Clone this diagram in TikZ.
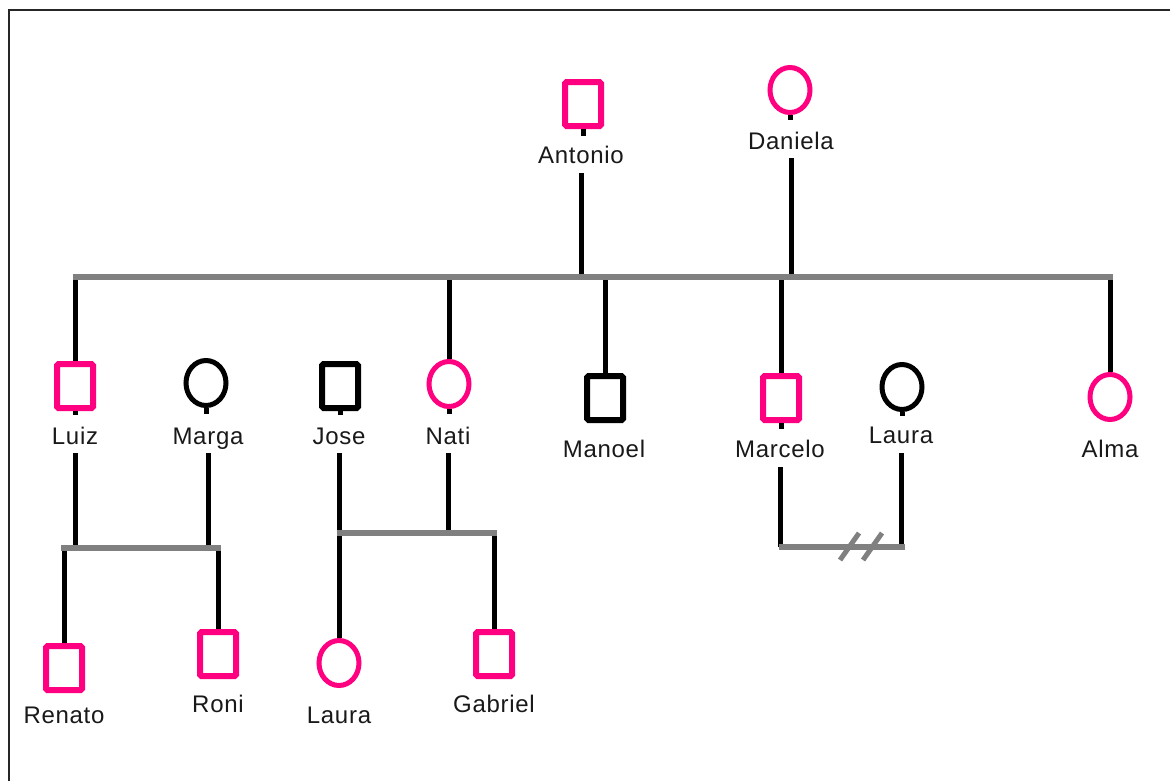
\documentclass[tikz,border=0pt]{standalone}
\usepackage{fontspec}
\setmainfont[LetterSpace=3]{Liberation Sans}
\usetikzlibrary{shapes.geometric}
\definecolor{pinkc}{RGB}{255,0,128}
\definecolor{barc}{RGB}{128,128,128}
\begin{document}
\begin{tikzpicture}[x=1pt,y=-1pt,
 male/.style={draw=pinkc, line width=6pt, minimum width=36pt, minimum height=44pt, inner sep=0pt, rounded corners=1.5pt},
 malek/.style={male, draw=black},
 female/.style={ellipse, draw=pinkc, line width=5pt, minimum width=40pt, minimum height=45pt, inner sep=0pt},
 femalek/.style={female, draw=black},
 lab/.style={font=\fontsize{24}{28}\selectfont, inner sep=0pt, anchor=base, text=black!90},
 kin/.style={line width=5pt, draw=black},
 bar/.style={line width=6pt, draw=barc},
 frameline/.style={line width=2pt, draw=black!85}]
\useasboundingbox (0,0) rectangle (1170,780);
\fill[white] (0,0) rectangle (1170,780);
\draw[frameline] (9,781) -- (9,10) -- (1171,10);

% generation 1
\node[male] (ant) at (583,104) {};
\node[lab] (antL) at (581,163) {Antonio};
\node[female] (dan) at (790,90) {};
\node[lab] (danL) at (791,149) {Daniela};

% generation 2
\node[male] (luiz) at (75,386) {};
\node[lab] (luizL) at (75,444) {Luiz};
\node[femalek] (marga) at (206,383) {};
\node[lab] (margaL) at (208,444) {Marga};
\node[malek] (jose) at (340,386) {};
\node[lab] (joseL) at (339,444) {Jose};
\node[female] (nati) at (449,384) {};
\node[lab] (natiL) at (448,444) {Nati};
\node[malek] (manoel) at (605,398) {};
\node[lab] (manoelL) at (604,457) {Manoel};
\node[male] (marcelo) at (781,398) {};
\node[lab] (marceloL) at (780,457) {Marcelo};
\node[femalek] (laurab) at (902,387) {};
\node[lab] (laurabL) at (901,443) {Laura};
\node[female] (alma) at (1110,397) {};
\node[lab] (almaL) at (1110,457) {Alma};

% generation 3
\node[male] (renato) at (64,668) {};
\node[lab] (renatoL) at (64,723) {Renato};
\node[male] (roni) at (218,654) {};
\node[lab] (roniL) at (218,712) {Roni};
\node[female] (laurac) at (339,663) {};
\node[lab] (lauracL) at (339,723) {Laura};
\node[male] (gabriel) at (494,654) {};
\node[lab] (gabrielL) at (494,712) {Gabriel};

% bar coordinates
\coordinate (tbL) at (72.5,277);
\coordinate (tbR) at (1112.5,277);
\coordinate (lmL) at (61,548);
\coordinate (lmR) at (220.5,548);
\coordinate (jnL) at (336.5,533);
\coordinate (jnR) at (496.5,533);
\coordinate (mlL) at (778.5,547);
\coordinate (mlR) at (904.5,547);

% stubs under symbols
\draw[kin] (ant.south) -- ++(0,7);
\draw[kin] (dan.south) -- ++(0,5);
\draw[kin] (luiz.south) -- ++(0,4);
\draw[kin] (marga.south) -- ++(0,6);
\draw[kin] (jose.south) -- ++(0,4);
\draw[kin] (nati.south) -- ++(0,5);
\draw[kin] (marcelo.south) -- ++(0,6);
\draw[kin] (laurab.south) -- ++(0,4);

% parents to sibship line
\draw[kin] ([yshift=-10pt]antL.base) -- (antL.base |- tbL);
\draw[kin] ([yshift=-9pt]danL.base) -- (danL.base |- tbL);

% children of Antonio & Daniela
\draw[kin] (luiz.north) -- (luiz.north |- tbL);
\draw[kin] (nati.north) -- (nati.north |- tbL);
\draw[kin] (manoel.north) -- (manoel.north |- tbL);
\draw[kin] (marcelo.north) -- (marcelo.north |- tbL);
\draw[kin] (alma.north) -- (alma.north |- tbL);

% Luiz & Marga
\draw[kin] ([yshift=-9pt]luizL.base) -- (luizL.base |- lmL);
\draw[kin] ([yshift=-9pt]margaL.base) -- (margaL.base |- lmL);
\draw[kin] (renato.north) -- (renato.north |- lmL);
\draw[kin] (roni.north) -- (roni.north |- lmL);

% Jose & Nati
\draw[kin] ([yshift=-9pt]joseL.base) -- (joseL.base |- jnL);
\draw[kin] ([yshift=-9pt]natiL.base) -- (natiL.base |- jnL);
\draw[kin] (laurac.north) -- (laurac.north |- jnL);
\draw[kin] (gabriel.north) -- (gabriel.north |- jnL);

% Marcelo & Laura
\draw[kin] ([yshift=-10pt]marceloL.base) -- (marceloL.base |- mlL);
\draw[kin] ([yshift=-10pt]laurabL.base) -- (laurabL.base |- mlL);

% grey bars
\draw[bar] (tbL) -- (tbR);
\draw[bar] (lmL) -- (lmR);
\draw[bar] (jnL) -- (jnR);
\draw[bar] (mlL) -- (mlR);

% divorce marks
\path (mlL) -- (mlR) coordinate[pos=0.655] (div);
\draw[bar, line width=5pt] ([xshift=-21pt,yshift=-13pt]div) -- ([xshift=-2pt,yshift=14pt]div);
\draw[bar, line width=5pt] ([xshift=2pt,yshift=-13pt]div) -- ([xshift=21pt,yshift=14pt]div);
\end{tikzpicture}
\end{document}
